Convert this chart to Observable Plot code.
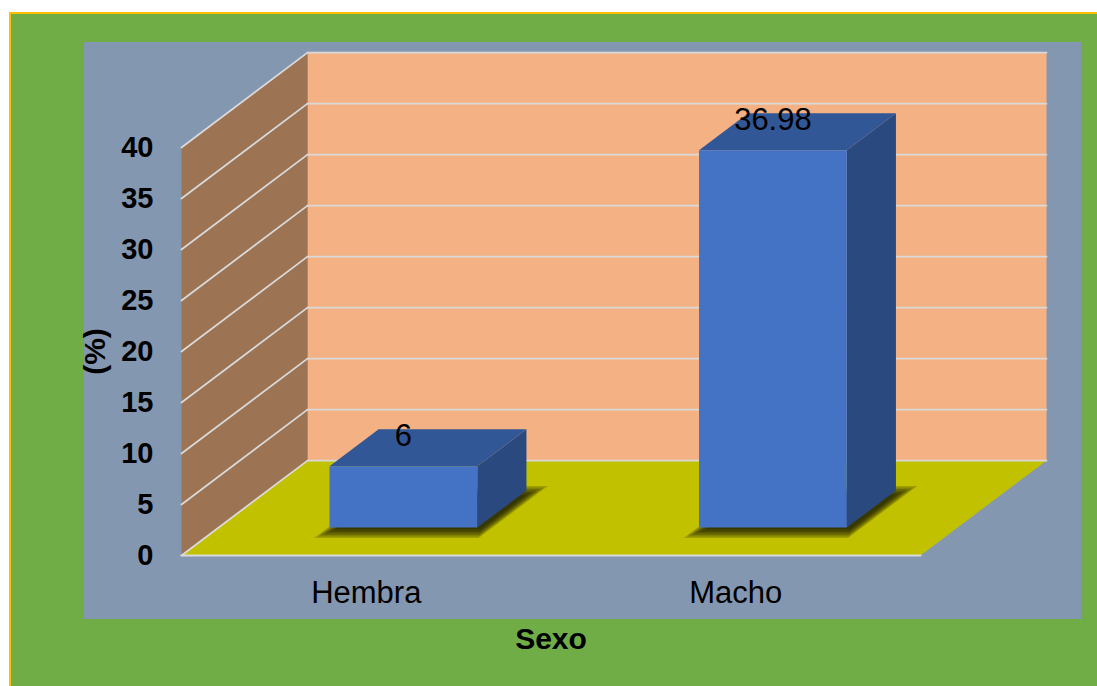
<!DOCTYPE html>
<html>
<head>
<meta charset="utf-8">
<script src="https://cdn.jsdelivr.net/npm/d3@7"></script>
<script src="https://cdn.jsdelivr.net/npm/@observablehq/plot@0.6"></script>
<style>
  html, body { margin: 0; padding: 0; background: #ffffff; }
  #wrap { position: relative; width: 1097px; height: 686px; overflow: hidden; }
  #outer { position: absolute; left: 9px; top: 12px; right: -4px; bottom: -4px;
           background: #70AD47; border-top: 2px solid #FFC000; border-left: 2px solid #FFC000; }
  #panel { position: absolute; left: 84px; top: 42px; width: 997px; height: 577px; background: #8497B0; }
  #chart { position: absolute; left: 0; top: 0; }
</style>
</head>
<body>
<div id="wrap">
  <div id="outer"></div>
  <div id="panel"></div>
  <div id="chart"></div>
</div>
<script>
// Data
const categories = ["Hembra", "Macho"];
const values = [6, 36.98];
const yTicks = [0, 5, 10, 15, 20, 25, 30, 35, 40];
const xLabel = "Sexo";
const yLabel = "(%)";

// Oblique projection: depth d in [0, 1] shifts a point right (in category units)
// and up (in value units).
const DEPTH_X = 0.341;
const DEPTH_Y = 9.3;
const P = (u, v, d) => ({x: u + DEPTH_X * d, y: v + DEPTH_Y * d});

// Bar footprint inside each category slot
const BAR_U0 = 0.3, BAR_U1 = 0.7;   // across the slot
const BAR_D0 = 0.295, BAR_D1 = 0.685; // depth

const n = categories.length;
const vMax = yTicks[yTicks.length - 1];

function poly(id, pts) {
  return pts.map(([u, v, d]) => ({id, ...P(u, v, d)}));
}

// Walls and floor
const backWall = poly("back", [[0, 0, 1], [n, 0, 1], [n, vMax, 1], [0, vMax, 1]]);
const sideWall = poly("side", [[0, 0, 0], [0, 0, 1], [0, vMax, 1], [0, vMax, 0]]);
const floor = poly("floor", [[0, 0, 0], [n, 0, 0], [n, 0, 1], [0, 0, 1]]);

// Gridlines: along the back wall and the side wall
const gridLines = yTicks.flatMap(t => [
  ...poly("b" + t, [[0, t, 1], [n, t, 1]]),
  ...poly("s" + t, [[0, t, 0], [0, t, 1]])
]);
const frontEdge = poly("front", [[0, 0, 0], [n, 0, 0]]);

// Bars as three visible faces
const fronts = [], tops = [], sides = [], shadows = [];
// Soft floor shadow: stacked translucent footprints, each a little larger
const SHADOW_LAYERS = 7;
values.forEach((v, i) => {
  const u0 = i + BAR_U0, u1 = i + BAR_U1;
  fronts.push(...poly("f" + i, [[u0, 0, BAR_D0], [u1, 0, BAR_D0], [u1, v, BAR_D0], [u0, v, BAR_D0]]));
  tops.push(...poly("t" + i, [[u0, v, BAR_D0], [u1, v, BAR_D0], [u1, v, BAR_D1], [u0, v, BAR_D1]]));
  sides.push(...poly("s" + i, [[u1, 0, BAR_D0], [u1, 0, BAR_D1], [u1, v, BAR_D1], [u1, v, BAR_D0]]));
  for (let k = 0; k < SHADOW_LAYERS; k++) {
    const eu = (k - 1) * 0.0045, ed = (k - 1) * 0.016;
    shadows.push(...poly(`h${i}-${k}`, [
      [u0 - eu, 0, BAR_D0 - ed], [u1 + eu, 0, BAR_D0 - ed],
      [u1 + eu, 0, BAR_D1 + ed], [u0 - eu, 0, BAR_D1 + ed]
    ]));
  }
});

const valueLabels = values.map((v, i) => ({...P(i + 0.5, v, BAR_D0), text: String(v)}));
const catLabels = categories.map((c, i) => ({x: i + 0.5, y: 0, text: c}));
const tickLabels = yTicks.map(t => ({x: 0, y: t, text: String(t)}));

const face = (data, fill, extra = {}) =>
  Plot.line(data, {x: "x", y: "y", z: "id", fill, stroke: "none", curve: "linear-closed", ...extra});

const plot = Plot.plot({
  width: 1097,
  height: 686,
  marginLeft: 181,
  marginRight: 177,
  marginTop: 147,
  marginBottom: 131,
  x: {domain: [0, n], axis: null},
  y: {domain: [0, vMax], axis: null},
  style: {background: "transparent", fontFamily: "'Liberation Sans', Arial, sans-serif", overflow: "visible"},
  marks: [
    face(backWall, "#F4B183"),
    face(sideWall, "#9C7353"),
    face(floor, "#C2C100"),
    Plot.line(gridLines, {x: "x", y: "y", z: "id", stroke: "#D9D9D9", strokeWidth: 1.8}),
    Plot.line(frontEdge, {x: "x", y: "y", z: "id", stroke: "#D9D9D9", strokeWidth: 2}),
    face(shadows, "#141400", {dx: 3, dy: 3, fillOpacity: 0.2}),
    face(sides, "#2A4A7F"),
    face(tops, "#325796"),
    face(fronts, "#4472C4"),
    Plot.text(valueLabels, {x: "x", y: "y", text: "text", dy: -30, fontSize: 31, fill: "#000"}),
    Plot.text(tickLabels, {x: "x", y: "y", text: "text", dx: -28, textAnchor: "end", fontSize: 29, fontWeight: "bold", fill: "#000"}),
    Plot.text(catLabels, {x: "x", y: "y", text: "text", dy: 38, fontSize: 31, fill: "#000"}),
    Plot.text([yLabel], {x: 0, y: vMax / 2, text: d => d, dx: -86, rotate: -90, fontSize: 30, fontWeight: "bold", fill: "#000"}),
    Plot.text([xLabel], {x: n / 2, y: 0, text: d => d, dy: 84, fontSize: 30, fontWeight: "bold", fill: "#000"})
  ]
});

document.getElementById("chart").appendChild(plot);
</script>
</body>
</html>
